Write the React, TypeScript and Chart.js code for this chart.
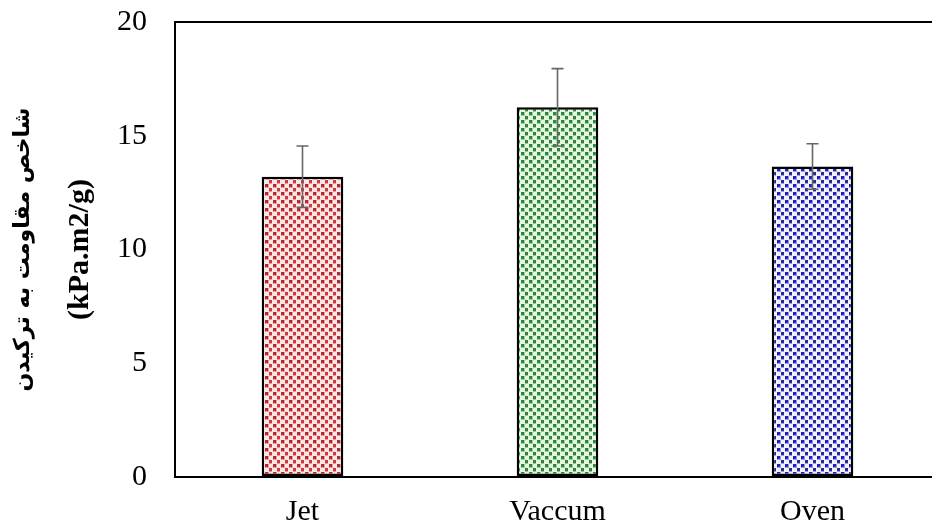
import React, { useEffect, useRef } from "react";
import { Chart, registerables } from "chart.js";

Chart.register(...registerables);

const categories = ["Jet", "Vaccum", "Oven"];
const values = [13.2, 16.25, 13.65];
const errors = [1.35, 1.7, 1.0];
const yTicks = [0, 5, 10, 15, 20];
const yTitleMain = "شاخص مقاومت به ترکیدن";
const yTitleUnit = "(kPa.m2/g)";

const palettes = [
  { bg: "#fde6e6", mid: "#e49a9a", dots: ["#b8282e", "#d03a3a"] },
  { bg: "#e6f7e3", mid: "#8fcf8f", dots: ["#2a8a38", "#3d7a3d"] },
  { bg: "#f2f2ff", mid: "#9a9ae6", dots: ["#1e1ec8", "#2a2a80"] },
];

function makePattern(ctx: CanvasRenderingContext2D, p: { bg: string; mid: string; dots: string[] }) {
  const tile = document.createElement("canvas");
  tile.width = 8;
  tile.height = 8;
  const t = tile.getContext("2d")!;
  t.fillStyle = p.bg;
  t.fillRect(0, 0, 8, 8);
  const pts = [
    [1, 0, 0],
    [5, 4, 1],
  ];
  for (const [x, y, c] of pts) {
    t.fillStyle = p.mid;
    t.fillRect(x, y, 4, 4);
    t.fillStyle = p.dots[c];
    t.fillRect(x, y, 3, 3);
  }
  return ctx.createPattern(tile, "repeat")!;
}

const errorBarPlugin = {
  id: "errorBars",
  afterDatasetsDraw(chart: any) {
    const ctx = chart.ctx;
    const meta = chart.getDatasetMeta(0);
    const ys = chart.scales.y;
    ctx.save();
    ctx.strokeStyle = "#666666";
    ctx.lineWidth = 1.6;
    meta.data.forEach((bar: any, i: number) => {
      const x = bar.x;
      const top = ys.getPixelForValue(values[i] + errors[i]);
      const bot = ys.getPixelForValue(values[i] - errors[i]);
      ctx.beginPath();
      ctx.moveTo(x, top);
      ctx.lineTo(x, bot);
      ctx.moveTo(x - 6, top);
      ctx.lineTo(x + 6, top);
      ctx.moveTo(x - 6, bot);
      ctx.lineTo(x + 6, bot);
      ctx.stroke();
    });
    ctx.restore();
  },
};

export default function App() {
  const ref = useRef<HTMLCanvasElement>(null);
  useEffect(() => {
    const canvas = ref.current!;
    const ctx = canvas.getContext("2d")!;
    const patterns = palettes.map((p) => makePattern(ctx, p));
    const chart = new Chart(canvas, {
      type: "bar",
      data: {
        labels: categories,
        datasets: [
          {
            data: values,
            backgroundColor: patterns,
            borderColor: "#000000",
            borderWidth: 2.5,
            borderSkipped: false,
            barPercentage: 0.32,
            categoryPercentage: 1,
            yAxisID: "y",
          },
        ],
      },
      options: {
        responsive: false,
        animation: false,
        layout: { padding: 0 },
        plugins: { legend: { display: false }, tooltip: { enabled: false } },
        scales: {
          x: {
            grid: { display: false, drawTicks: false },
            border: { display: true, color: "#000000", width: 2 },
            ticks: {
              color: "#000000",
              font: { family: "Liberation Serif", size: 30 },
              padding: 17,
            },
          },
          y: {
            position: "left",
            min: 0,
            max: 20,
            afterBuildTicks: (axis: any) => {
              axis.ticks = yTicks.map((v) => ({ value: v }));
            },
            grid: {
              drawTicks: false,
              color: (c: any) => (c.tick && c.tick.value === 20 ? "#000000" : "rgba(0,0,0,0)"),
              lineWidth: 2,
            },
            border: { display: true, color: "#000000", width: 2 },
            ticks: {
              color: "#000000",
              font: { family: "Liberation Serif", size: 30 },
              padding: 28,
            },
            afterFit: (axis: any) => {
              axis.width = 113;
            },
            title: {
              display: true,
              text: yTitleUnit,
              color: "#000000",
              font: { family: "Liberation Serif", size: 30, weight: "bold" },
              padding: { top: 0, bottom: 0 },
            },
          },
          yUnit: {
            type: "linear",
            position: "left",
            min: 0,
            max: 20,
            grid: { display: false, drawTicks: false },
            border: { display: false },
            ticks: { display: false },
            afterFit: (axis: any) => {
              axis.width = 62;
            },
            title: {
              display: true,
              text: yTitleMain,
              color: "#000000",
              font: { family: "DejaVu Sans", size: 22, weight: "bold" },
              padding: { top: 10, bottom: 0 },
            },
          },
        },
      },
      plugins: [errorBarPlugin],
    });
    return () => chart.destroy();
  }, []);
  return (
    <div style={{ position: "absolute", left: 0, top: 0, width: 932, height: 530, overflow: "hidden", background: "#fff" }}>
      <canvas ref={ref} width={940} height={571} style={{ display: "block", marginTop: -24 }} />
    </div>
  );
}
